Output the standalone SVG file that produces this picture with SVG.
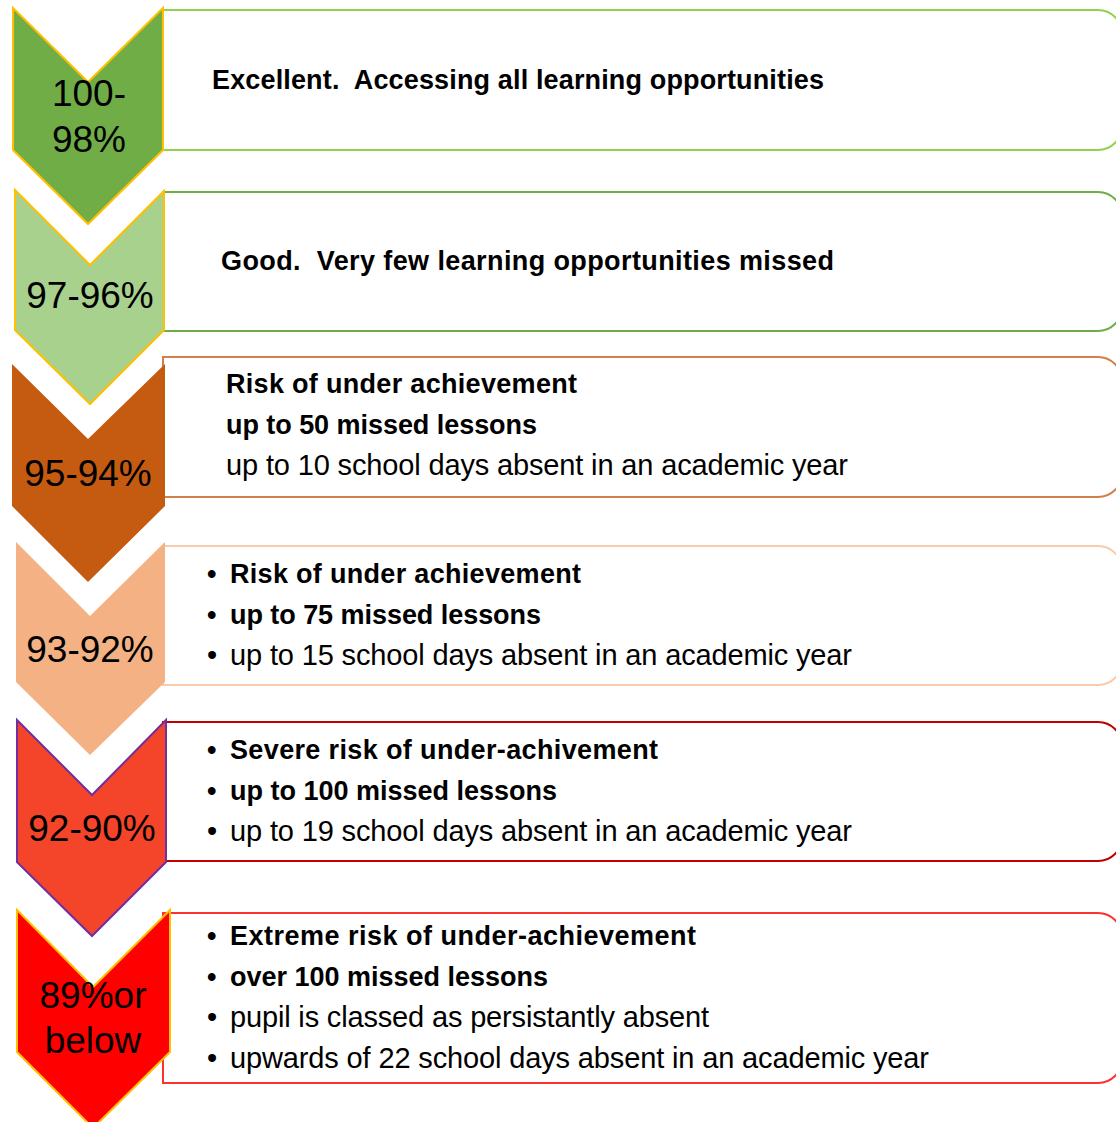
<svg xmlns="http://www.w3.org/2000/svg" width="1116" height="1122" viewBox="0 0 1116 1122">
<style>
.box{fill:#FFFFFF;stroke-width:2}
.chev{stroke-width:2}
.lab{font-family:"Liberation Sans",Arial,sans-serif;font-size:37px;fill:#000;text-anchor:middle}
.b{font-family:"Liberation Sans",Arial,sans-serif;font-size:27px;font-weight:bold;fill:#000;white-space:pre}
.r{font-family:"Liberation Sans",Arial,sans-serif;font-size:29px;fill:#000}
</style>
<rect width="1116" height="1122" fill="#FFFFFF"/>
<g id="connectors"/>
<g id="node1">
<path class="box" stroke="#92D050" d="M163,10 H1098 A24,24 0 0 1 1122,34 V126 A24,24 0 0 1 1098,150 H163 Z"/>
<polygon class="chev" fill="#70AD47" stroke="#FFC000" points="13,8 88,82 163,8 163,150 88,224 13,150"/>
<text class="lab" x="89" y="106">100-</text>
<text class="lab" x="89" y="152">98%</text>
<text class="b" x="212" y="89" textLength="612" xml:space="preserve">Excellent.  Accessing all learning opportunities</text>
</g>
<g id="node2">
<path class="box" stroke="#70AD47" d="M163,192 H1098 A24,24 0 0 1 1122,216 V307 A24,24 0 0 1 1098,331 H163 Z"/>
<polygon class="chev" fill="#A9D18E" stroke="#FFC000" points="15,190 90,265 164,191 164,330 90,404 15,330"/>
<text class="lab" x="90" y="308">97-96%</text>
<text class="b" x="221" y="270" textLength="613" xml:space="preserve">Good.  Very few learning opportunities missed</text>
</g>
<g id="node3">
<path class="box" stroke="#D2804A" d="M163,357 H1098 A24,24 0 0 1 1122,381 V473 A24,24 0 0 1 1098,497 H163 Z"/>
<polygon class="chev" fill="#C55A11" stroke="none" points="12,364 88,439 165,364 165,506 88,582 12,506"/>
<text class="lab" x="88" y="486">95-94%</text>
<text class="b" x="226" y="393" textLength="351">Risk of under achievement</text>
<text class="b" x="226" y="434" textLength="311">up to 50 missed lessons</text>
<text class="r" x="226" y="475" textLength="622">up to 10 school days absent in an academic year</text>
</g>
<g id="node4">
<path class="box" stroke="#F8CBAD" d="M163,546 H1098 A24,24 0 0 1 1122,570 V661 A24,24 0 0 1 1098,685 H163 Z"/>
<polygon class="chev" fill="#F4B183" stroke="none" points="16,542 90,616 165,542 165,682 90,755 16,682"/>
<text class="lab" x="90" y="662">93-92%</text>
<text class="b" x="207" y="583">•</text>
<text class="b" x="230" y="583" textLength="351">Risk of under achievement</text>
<text class="b" x="207" y="624">•</text>
<text class="b" x="230" y="624" textLength="311">up to 75 missed lessons</text>
<text class="r" x="207" y="665">•</text>
<text class="r" x="230" y="665" textLength="622">up to 15 school days absent in an academic year</text>
</g>
<g id="node5">
<path class="box" stroke="#C00000" d="M163,722 H1098 A24,24 0 0 1 1122,746 V837 A24,24 0 0 1 1098,861 H163 Z"/>
<polygon class="chev" fill="#F4442A" stroke="#7030A0" stroke-width="1" points="17,720 92,795 166,720 166,862 92,936 17,862"/>
<text class="lab" x="92" y="841">92-90%</text>
<text class="b" x="207" y="759">•</text>
<text class="b" x="230" y="759" textLength="428">Severe risk of under-achivement</text>
<text class="b" x="207" y="800">•</text>
<text class="b" x="230" y="800" textLength="327">up to 100 missed lessons</text>
<text class="r" x="207" y="841">•</text>
<text class="r" x="230" y="841" textLength="622">up to 19 school days absent in an academic year</text>
</g>
<g id="node6">
<path class="box" stroke="#FF3030" d="M163,913 H1098 A24,24 0 0 1 1122,937 V1059 A24,24 0 0 1 1098,1083 H163 Z"/>
<polygon class="chev" fill="#FF0000" stroke="#FFC000" points="17,910 93,987 170,910 170,1052 93,1128 17,1052"/>
<text class="lab" x="93" y="1008">89%or</text>
<text class="lab" x="93" y="1053">below</text>
<text class="b" x="207" y="945">•</text>
<text class="b" x="230" y="945" textLength="466">Extreme risk of under-achievement</text>
<text class="b" x="207" y="986">•</text>
<text class="b" x="230" y="986" textLength="318">over 100 missed lessons</text>
<text class="r" x="207" y="1027">•</text>
<text class="r" x="230" y="1027" textLength="479">pupil is classed as persistantly absent</text>
<text class="r" x="207" y="1068">•</text>
<text class="r" x="230" y="1068" textLength="699">upwards of 22 school days absent in an academic year</text>
</g>
</svg>
